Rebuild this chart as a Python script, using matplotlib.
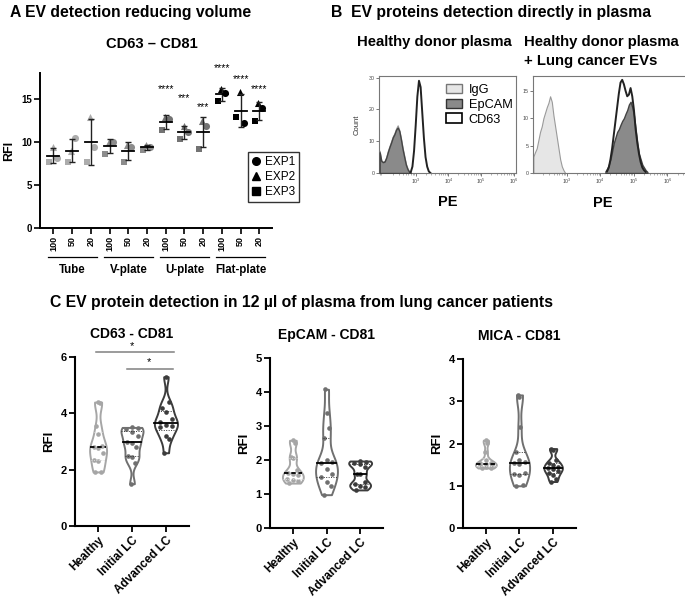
import numpy as np
import matplotlib.pyplot as plt
from matplotlib.patches import Patch
from matplotlib.lines import Line2D

plt.rcParams['font.family'] = ['Liberation Sans', 'DejaVu Sans']

W, H = 685, 609

# ---------------- panel A: RFI per experiment ----------------
a_conditions = ['Tube', 'V-plate', 'U-plate', 'Flat-plate']
a_volumes = ['100', '50', '20']
exp1 = [8.1, 10.4, 9.4, 10.0, 9.4, 9.4, 12.7, 11.1, 11.9, 15.7, 12.2, 13.9]   # circles
exp2 = [9.4, 8.9, 12.9, 10.0, 9.6, 9.6, 12.9, 11.9, 12.4, 16.2, 15.8, 14.5]   # triangles
exp3 = [7.7, 7.7, 7.7, 8.6, 7.7, 9.1, 11.4, 10.3, 9.2, 14.7, 12.9, 12.4]      # squares
a_stars = ['', '', '', '', '', '', '****', '***', '***', '****', '****', '****']
a_star_y = [0, 0, 0, 0, 0, 0, 16.1, 15.1, 14.0, 18.6, 17.3, 16.1]

# ---------------- panel B: flow histograms (log10 PE, counts) ----------------
b1_igg_x = [1.90, 1.95, 2.00, 2.05, 2.10, 2.15, 2.20, 2.25, 2.30, 2.35, 2.40, 2.45,
            2.50, 2.55, 2.60, 2.65, 2.70, 2.75, 2.80, 2.85]
b1_igg_y = [7, 4, 3.5, 3.8, 5, 7, 8.5, 10, 11.5, 12.5, 14, 15,
            13.5, 11, 8, 5.5, 3, 1.5, 0.5, 0]
b1_epcam_y = [6.5, 3.8, 3.4, 3.6, 4.8, 6.6, 8.2, 9.6, 11.2, 12.2, 13.6, 14.3,
              13.2, 10.5, 7.5, 5, 2.6, 1.2, 0.4, 0]
b1_cd63_x = [2.85, 2.90, 2.95, 3.00, 3.05, 3.10, 3.15, 3.20, 3.25, 3.30, 3.35, 3.40, 3.45]
b1_cd63_y = [0.3, 2, 7, 15, 24, 29, 27, 19, 11, 5, 2, 0.5, 0]

b2_igg_x = [2.00, 2.05, 2.10, 2.15, 2.20, 2.25, 2.30, 2.35, 2.40, 2.45, 2.50, 2.55,
            2.60, 2.65, 2.70, 2.75, 2.80, 2.85, 2.90, 2.95]
b2_igg_y = [3, 3.8, 4.5, 6, 7.5, 8.5, 10, 11, 12, 12.8, 14, 13,
            10.5, 8.5, 6.5, 4.5, 2.5, 1.2, 0.5, 0]
b2_epcam_x = [4.15, 4.20, 4.25, 4.30, 4.35, 4.40, 4.45, 4.50, 4.55, 4.60, 4.65, 4.70, 4.75,
              4.80, 4.85, 4.90, 4.95, 5.00, 5.05, 5.10, 5.15, 5.20, 5.25, 5.30, 5.35, 5.40]
b2_epcam_y = [0.3, 0.8, 1.5, 2.5, 4, 5.5, 6.5, 7.5, 8, 8.8, 9.5, 10, 10.8,
              11.5, 12.5, 13, 12, 10.5, 8, 5.5, 3.5, 2.5, 1.5, 1, 0.5, 0.2]
b2_cd63_x = [4.20, 4.25, 4.30, 4.35, 4.40, 4.45, 4.50, 4.55, 4.60, 4.65, 4.70, 4.75,
             4.80, 4.85, 4.90, 4.95, 5.00, 5.05, 5.10, 5.15, 5.20, 5.25, 5.30, 5.35]
b2_cd63_y = [0.3, 1, 2.5, 4.5, 7, 9.5, 12, 14.5, 16.5, 17, 16.2, 15,
             14, 14.3, 15.5, 14, 11.5, 8, 5.5, 3.5, 2, 1, 0.5, 0.2]

# ---------------- panel C: RFI per patient ----------------
c_groups = ['Healthy', 'Initial LC', 'Advanced LC']
cd63_healthy = [4.4, 4.35, 3.55, 3.25, 2.85, 2.82, 2.78, 2.6, 2.35, 2.3, 1.93, 1.92]
cd63_initial = [3.5, 3.48, 3.45, 3.35, 3.2, 3.0, 2.95, 2.8, 2.5, 2.45, 2.25, 1.5]
cd63_advanced = [5.3, 4.4, 4.2, 4.05, 3.8, 3.7, 3.6, 3.55, 3.5, 3.2, 3.1, 2.6]
epcam_healthy = [2.58, 2.5, 2.1, 2.05, 1.7, 1.62, 1.6, 1.55, 1.45, 1.4, 1.38, 1.32]
epcam_initial = [4.08, 3.38, 2.94, 2.65, 2.0, 1.95, 1.9, 1.75, 1.6, 1.5, 1.35, 1.25, 0.98]
epcam_advanced = [1.97, 1.95, 1.92, 1.88, 1.8, 1.6, 1.58, 1.35, 1.3, 1.25, 1.2, 1.12]
mica_healthy = [2.08, 2.02, 1.8, 1.6, 1.55, 1.53, 1.52, 1.5, 1.48, 1.45, 1.43, 1.42]
mica_initial = [3.15, 3.1, 2.38, 1.8, 1.62, 1.56, 1.54, 1.52, 1.3, 1.28, 1.25, 1.02, 1.0]
mica_advanced = [1.88, 1.85, 1.6, 1.55, 1.5, 1.45, 1.42, 1.4, 1.35, 1.3, 1.25, 1.15, 1.1]


def px(x, y):
    return x / W, 1 - y / H


def add_ax(l, t, r, b):
    return fig.add_axes([l / W, 1 - b / H, (r - l) / W, (b - t) / H])


fig = plt.figure(figsize=(W / 100, H / 100), dpi=100)

# ======================= A =======================
fig.text(*px(10, 12), 'A EV detection reducing volume', fontsize=11.3,
         fontweight='bold', va='center')
fig.text(*px(152, 44), 'CD63 – CD81', fontsize=10.6, fontweight='bold',
         va='center', ha='center')

ax = add_ax(40, 73, 272, 228)
grp_colors = ['#acacac', '#8c8c8c', '#737373', '#000000']
xs = np.arange(12)
for i in xs:
    col = grp_colors[i // 3]
    vals = np.array([exp1[i], exp2[i], exp3[i]])
    ax.scatter(i - 0.05, exp2[i], marker='^', s=26, color=col, zorder=3, lw=0)
    ax.scatter(i + 0.17, exp1[i], marker='o', s=26, color=col, zorder=3, lw=0)
    ax.scatter(i - 0.22, exp3[i], marker='s', s=24, color=col, zorder=3, lw=0)
    m, sd = vals.mean(), vals.std(ddof=1)
    ax.errorbar(i, m, yerr=sd, fmt='none', ecolor='#222222', elinewidth=1.0,
                capsize=2.5, capthick=1.0, zorder=4)
    ax.plot([i - 0.32, i + 0.32], [m, m], color='black', lw=1.3, zorder=5)
    if a_stars[i]:
        ax.text(i, a_star_y[i], a_stars[i], ha='center', va='center',
                fontsize=7.5, clip_on=False)

ax.set_xlim(-0.72, 11.68)
ax.set_ylim(0, 18)
ax.set_yticks([0, 5, 10, 15])
ax.set_xticks(xs)
ax.set_xticklabels(a_volumes * 4, rotation=90, fontsize=6.5, fontweight='bold')
for lab in ax.get_yticklabels():
    lab.set_fontweight('bold')
    lab.set_fontsize(7)
ax.spines[['top', 'right']].set_visible(False)
for s in ['left', 'bottom']:
    ax.spines[s].set_linewidth(1.4)
ax.tick_params(width=1.2, length=4, pad=2)
ax.set_ylabel('RFI', fontsize=9, fontweight='bold', labelpad=4)
for g, name in enumerate(a_conditions):
    ax.plot([3 * g - 0.3, 3 * g + 2.3], [-0.187, -0.187], color='black', lw=0.9,
            transform=ax.get_xaxis_transform(), clip_on=False)
    ax.text(3 * g + 1, -0.27, name, ha='center', va='center', fontsize=8.3,
            fontweight='bold', transform=ax.get_xaxis_transform())

handles = [Line2D([], [], marker=mk, color='black', ls='none', markersize=5.5)
           for mk in ['o', '^', 's']]
leg = ax.legend(handles, ['EXP1', 'EXP2', 'EXP3'], loc='upper left',
                bbox_to_anchor=(0.895, 0.49), fontsize=8.5, frameon=True,
                fancybox=False, handlelength=0.8, handletextpad=0.3,
                labelspacing=0.25, borderpad=0.35, borderaxespad=0)
leg.get_frame().set_edgecolor('black')
leg.get_frame().set_linewidth(1.0)

# ======================= B =======================
fig.text(*px(331, 12), 'B  EV proteins detection directly in plasma', fontsize=11.3,
         fontweight='bold', va='center')
fig.text(*px(357, 42), 'Healthy donor plasma', fontsize=10.7, fontweight='bold', va='center')
fig.text(*px(524, 42), 'Healthy donor plasma', fontsize=10.7, fontweight='bold', va='center')
fig.text(*px(524, 61), '+ Lung cancer EVs', fontsize=10.7, fontweight='bold', va='center')

igg_face, igg_edge = '#e6e6e6', '#9a9a9a'
ep_face, ep_edge = '#8a8a8a', '#444444'


def style_flow(axh, xlo, xhi, ymax, yticks):
    axh.set_xscale('log')
    axh.set_xlim(10 ** xlo, 10 ** xhi)
    axh.set_ylim(0, ymax)
    axh.set_xticks([1e3, 1e4, 1e5, 1e6])
    axh.set_yticks(yticks)
    axh.tick_params(labelsize=3.8, length=2, width=0.5, pad=1, colors='#444444')
    axh.tick_params(which='minor', length=1.2, width=0.4, colors='#777777')
    for s in axh.spines.values():
        s.set_color('#777777')
        s.set_linewidth(0.8)
    axh.set_xlabel('PE', fontsize=10.5, fontweight='bold', labelpad=6)


ax1 = add_ax(379, 76, 516, 173)
ax1.fill_between(10 ** np.array(b1_cd63_x), b1_cd63_y, color='white', zorder=1)
ax1.plot(10 ** np.array(b1_cd63_x), b1_cd63_y, color='#222222', lw=1.4, zorder=4)
ax1.fill_between(10 ** np.array(b1_igg_x), b1_igg_y, facecolor=igg_face,
                 edgecolor=igg_edge, lw=0.8, zorder=2)
ax1.fill_between(10 ** np.array(b1_igg_x), b1_epcam_y, facecolor=ep_face,
                 edgecolor=ep_edge, lw=1.0, zorder=3)
style_flow(ax1, 1.88, 6.06, 30.5, [0, 10, 20, 30])
ax1.set_ylabel('Count', fontsize=5.5, labelpad=6, color='#333333')
ax1.legend([Patch(facecolor=igg_face, edgecolor='#777777'),
            Patch(facecolor=ep_face, edgecolor='#333333'),
            Patch(facecolor='white', edgecolor='black', lw=1.2)],
           ['IgG', 'EpCAM', 'CD63'], loc='upper left', bbox_to_anchor=(0.43, 1.0),
           frameon=False, fontsize=9.2, handlelength=1.3, handleheight=0.8,
           handletextpad=0.5, labelspacing=0.2, borderaxespad=0.2)

ax2 = add_ax(533, 76, 700, 173)
ax2.fill_between(10 ** np.array(b2_igg_x), b2_igg_y, facecolor=igg_face,
                 edgecolor=igg_edge, lw=0.8, zorder=2)
ax2.fill_between(10 ** np.array(b2_cd63_x), b2_cd63_y, color='white', zorder=1)
ax2.fill_between(10 ** np.array(b2_epcam_x), b2_epcam_y, facecolor=ep_face,
                 edgecolor=ep_edge, lw=1.0, zorder=3)
ax2.plot(10 ** np.array(b2_cd63_x), b2_cd63_y, color='#222222', lw=1.4, zorder=4)
style_flow(ax2, 1.99, 6.97, 17.7, [0, 5, 10, 15])
ax2.xaxis.set_label_coords((603 - 533) / (700 - 533), -0.24)

# ======================= C =======================
fig.text(*px(50, 303), 'C EV protein detection in 12 µl of plasma from lung cancer patients',
         fontsize=11.3, fontweight='bold', va='center')

c_colors = ['#a6a6a6', '#707070', '#3c3c3c']


def violin_panel(axv, data, title, ymax, widths):
    parts = axv.violinplot(data, positions=[0, 1, 2], widths=widths,
                           showextrema=False, bw_method=0.35)
    for i, body in enumerate(parts['bodies']):
        col = c_colors[i]
        body.set_facecolor('white')
        body.set_edgecolor(col)
        body.set_linewidth(1.4)
        body.set_alpha(1)
        verts = body.get_paths()[0].vertices
        right = verts[verts[:, 0] >= i]
        order = np.argsort(right[:, 1])
        ry, rx = right[order, 1], right[order, 0] - i

        def half(y):
            return np.interp(y, ry, rx)

        d = np.sort(np.array(data[i]))
        pattern = np.resize([-1.0, 1.0, 0.0], len(d))
        offs = pattern * 0.55 * half(d)
        axv.scatter(i + offs, d, s=11, color=col, zorder=3, lw=0)
        med = np.median(d)
        q1, q3 = np.percentile(d, [25, 75])
        mls = (0, (2.5, 1.5)) if i == 0 else '-'
        axv.plot([i - half(med), i + half(med)], [med, med], color='black',
                 lw=1.3, ls=mls, zorder=4)
        qcol = '#dddddd' if i == 0 else '#333333'
        for q in (q1, q3):
            axv.plot([i - half(q), i + half(q)], [q, q], color=qcol, lw=0.7,
                     ls=(0, (1, 1.5)), zorder=4)
    axv.set_xlim(-0.68, 2.68)
    axv.set_ylim(0, ymax)
    axv.set_yticks(np.arange(0, ymax + 1, 2 if ymax == 6 else 1))
    axv.set_xticks([0, 1, 2])
    axv.set_xticklabels(c_groups, rotation=45, ha='right', rotation_mode='anchor',
                        fontsize=8.5, fontweight='bold')
    for lab in axv.get_yticklabels():
        lab.set_fontweight('bold')
        lab.set_fontsize(8)
    axv.spines[['top', 'right']].set_visible(False)
    for s in ['left', 'bottom']:
        axv.spines[s].set_linewidth(1.5)
    axv.tick_params(width=1.3, length=4, pad=2)
    axv.set_ylabel('RFI', fontsize=9.5, fontweight='bold')
    axv.set_title(title, fontsize=10, fontweight='bold', pad=14)


axc1 = add_ax(75, 357, 189, 526)
violin_panel(axc1, [cd63_healthy, cd63_initial, cd63_advanced], 'CD63 - CD81', 6,
             [0.5, 0.65, 0.68])
axc1.plot([-0.05, 2.25], [6.18, 6.18], color='#808080', lw=1.1, clip_on=False)
axc1.text(1.0, 6.22, '*', ha='center', va='bottom', fontsize=8, clip_on=False)
axc1.plot([0.85, 2.2], [5.59, 5.59], color='#808080', lw=1.1, clip_on=False)
axc1.text(1.5, 5.63, '*', ha='center', va='bottom', fontsize=8, clip_on=False)

axc2 = add_ax(270, 358, 383, 528)
violin_panel(axc2, [epcam_healthy, epcam_initial, epcam_advanced], 'EpCAM - CD81', 5,
             [0.62, 0.65, 0.68])

axc3 = add_ax(463, 359, 576, 528)
violin_panel(axc3, [mica_healthy, mica_initial, mica_advanced], 'MICA - CD81', 4,
             [0.62, 0.6, 0.55])

fig.savefig('out.png', dpi=100)
